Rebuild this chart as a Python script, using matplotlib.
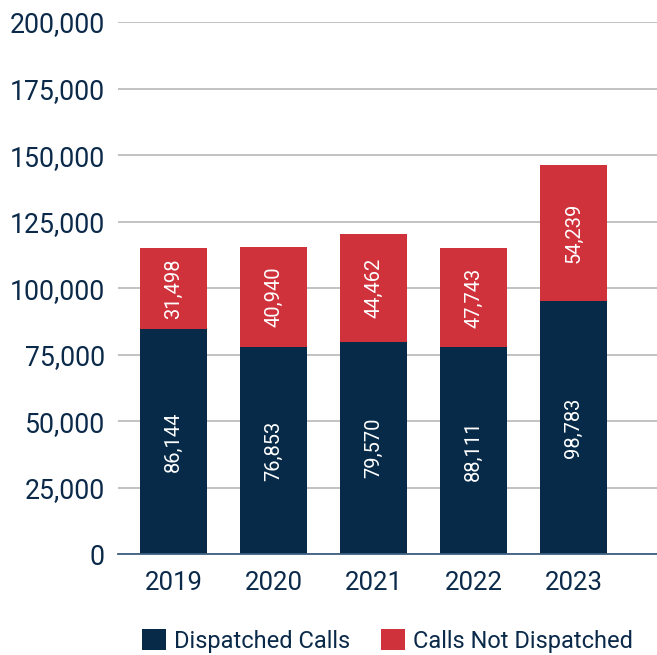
import matplotlib
matplotlib.use("Agg")
import matplotlib.pyplot as plt
from matplotlib.patches import Patch
from matplotlib.ticker import FuncFormatter

years = ["2019", "2020", "2021", "2022", "2023"]
# bar heights as drawn in the picture
dispatched = [84650, 77890, 79770, 77890, 95170]
not_dispatched = [30430, 37570, 40580, 37200, 51100]
# printed data labels
dispatched_labels = ["86,144", "76,853", "79,570", "88,111", "98,783"]
not_dispatched_labels = ["31,498", "40,940", "44,462", "47,743", "54,239"]
series_names = ["Dispatched Calls", "Calls Not Dispatched"]
yticks = [0, 25000, 50000, 75000, 100000, 125000, 150000, 175000, 200000]

navy = "#062a47"
red = "#d0323b"
textc = "#0b2a4a"

plt.rcParams['font.family'] = ['Roboto', 'DejaVu Sans']

fig = plt.figure(figsize=(6.57, 6.55), dpi=100)
ax = fig.add_axes([0.1796, 0.1537, 0.8204, 0.8127])

x = list(range(len(years)))
ax.bar(x, dispatched, width=0.67, color=navy, zorder=2)
ax.bar(x, not_dispatched, width=0.67, bottom=dispatched, color=red, zorder=2)

for i in x:
    ax.text(i, dispatched[i] / 2, dispatched_labels[i], rotation=90, color="white",
            ha="center", va="center", fontsize=14.5, zorder=3)
    ax.text(i, dispatched[i] + not_dispatched[i] / 2, not_dispatched_labels[i], rotation=90,
            color="white", ha="center", va="center", fontsize=14.5, zorder=3)

ax.set_xlim(-0.555, 4.835)
ax.set_ylim(0, 200000)
ax.set_yticks(yticks)
ax.yaxis.set_major_formatter(FuncFormatter(lambda v, p: f"{int(v):,}"))
ax.set_xticks(x)
ax.set_xticklabels(years)

ax.grid(axis="y", color="#bdbdbd", linewidth=1.3, zorder=0)
ax.set_axisbelow(True)
for s in ["top", "right", "left"]:
    ax.spines[s].set_visible(False)
ax.spines["bottom"].set_color("#3d5f80")
ax.spines["bottom"].set_linewidth(1.3)

ax.tick_params(axis="y", length=0, pad=9.5, labelsize=19.2, labelcolor=textc)
ax.tick_params(axis="x", length=0, pad=12, labelsize=18.5, labelcolor=textc)

handles = [Patch(facecolor=navy), Patch(facecolor=red)]
leg = ax.legend(handles, series_names, loc="center", bbox_to_anchor=(0.5, -0.163),
                ncol=2, frameon=False, fontsize=17, handlelength=1.0, handleheight=1.0,
                handletextpad=0.35, columnspacing=1.3, borderpad=0.2)
for t in leg.get_texts():
    t.set_color(textc)

fig.savefig("out.png", dpi=100)
